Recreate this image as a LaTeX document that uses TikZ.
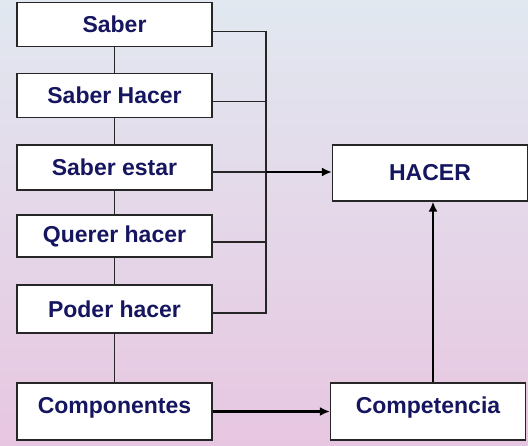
\documentclass[tikz,border=0pt]{standalone}
\usepackage{fontspec}
\setmainfont{Liberation Sans}
\usetikzlibrary{arrows.meta}
\definecolor{inkblue}{RGB}{22,22,96}
\definecolor{bgtop}{RGB}{225,232,240}
\definecolor{bgbottom}{RGB}{231,198,225}
\begin{document}
\begin{tikzpicture}
	[x=1pt,y=-1pt,>={Latex[length=10pt,width=9pt]},
	box/.style={rectangle,draw=black!85,line width=1.2pt,fill=white,minimum width=195pt,minimum height=44pt,
		font=\fontsize{23}{25}\selectfont\bfseries,text=inkblue,inner sep=0pt},
	link/.style={draw=black!85,line width=1.1pt},
	flow/.style={->,draw=black,line width=2.2pt}]
	\useasboundingbox (0,0) rectangle (528,445);
	\fill[top color=bgtop,bottom color=bgbottom] (0,0) rectangle (528,445);
	% left column
	\node[box,name=saber] at (114.5,24.5) {Saber};
	\node[box,name=saberhacer] at (114.5,95.5) {Saber Hacer};
	\node[box,name=saberestar,minimum height=45pt] at (114.5,167.5) {Saber estar};
	\node[box,name=querer,minimum height=42pt] at (114.5,236) {Querer hacer};
	\node[box,name=poder,minimum height=48pt] at (114.5,309) {Poder hacer};
	\node[box,name=componentes,minimum height=57pt,text depth=12pt] at (114.5,411.5) {Componentes};
	% right column
	\node[box,name=hacer,minimum height=56pt] at (430,173) {HACER};
	\node[box,name=competencia,minimum height=57pt,text depth=12pt] at (428,411.5) {Competencia};
	% chain
	\draw[link] (saber)--(saberhacer);
	\draw[link] (saberhacer)--(saberestar);
	\draw[link] (saberestar)--(querer);
	\draw[link] (querer)--(poder);
	\draw[link] (poder)--(componentes);
	% bus
	\coordinate (bus) at (266,172);
	\draw[link] ([yshift=-7pt]saber.east)-|(266,313)--([yshift=-4pt]poder.east);
	\draw[link] ([yshift=-6pt]saberhacer.east)--++(54,0);
	\draw[link] ([yshift=-6pt]querer.east)--++(54,0);
	\draw[link] ([yshift=-4.5pt]saberestar.east)--(bus);
	\draw[flow] (bus)--(hacer.west|-bus);
	\draw[flow] (componentes.east)--(competencia.west);
	\draw[flow] (competencia.north-|433,0)--(hacer.south-|433,0);
\end{tikzpicture}
\end{document}
